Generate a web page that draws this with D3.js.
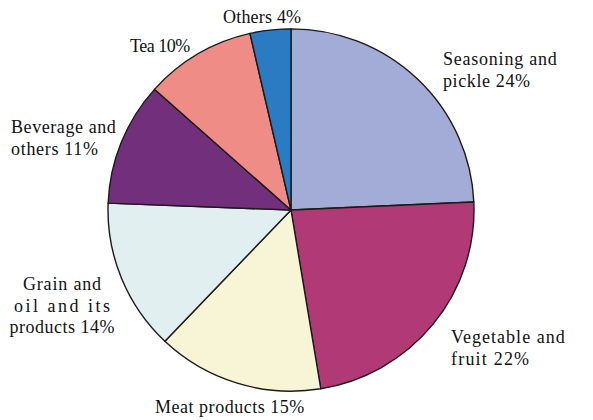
<!DOCTYPE html>
<html>
<head>
<meta charset="utf-8">
<script src="https://cdn.jsdelivr.net/npm/d3@7"></script>
<style>
  body { margin: 0; background: #fff; }
  text { font-family: "Liberation Serif", "DejaVu Serif", serif; fill: #111; }
</style>
</head>
<body>
<div id="container"></div>
<script>
// data, clockwise from 12 o'clock
let categories = ["Seasoning and|pickle", "Vegetable and|fruit", "Meat products", "Grain and|oil and its|products", "Beverage and|others", "Tea", "Others"]
// percentages as printed in the labels
let shares = [24, 22, 15, 14, 11, 10, 4]
let drawn = [24.3, 23.1, 14.7, 13.5, 11.0, 9.8, 3.6]
let colors = ["#a2acd6", "#b13a76", "#f8f4d6", "#e1eff0", "#722f7b", "#f08c86", "#2a7bc1"]

// label anchors [x, y of first baseline, text-anchor]
let labelSpots = [
    [443, 65, "start"],
    [451, 343, "start"],
    [155, 413, "start"],
    [62, 290, "middle"],
    [11, 133, "start"],
    [130, 52, "start"],
    [223, 23, "start"]
]

let width = 593, height = 420
let cx = 291, cy = 210, r = 183
let charPitch = 8.9

let viz = d3.select("#container").append("svg")
    .attr("width", width)
    .attr("height", height)
    .style("background-color", "white")

let pie = d3.pie().sort(null).value(d => d)
let arc = d3.arc().innerRadius(0).outerRadius(r)

let slices = viz.append("g")
    .attr("transform", "translate(" + cx + "," + cy + ") scale(1,0.99)")

slices.selectAll("path")
    .data(pie(drawn))
    .enter()
    .append("path")
    .attr("d", arc)
    .attr("fill", (d, i) => colors[i])
    .attr("stroke", "#1a1a1a")
    .attr("stroke-width", 1.4)
    .attr("stroke-linejoin", "round")

let labels = viz.append("g")

categories.forEach(function(name, i) {
    let lines = name.split("|")
    lines[lines.length - 1] += " " + shares[i] + "%"
    let spot = labelSpots[i]
    let t = labels.append("text")
        .attr("x", spot[0])
        .attr("y", spot[1])
        .attr("text-anchor", spot[2])
        .style("font-size", "18px")
    lines.forEach(function(line, j) {
        t.append("tspan")
            .attr("x", spot[0])
            .attr("dy", j == 0 ? 0 : 21.5)
            .attr("textLength", line.length * charPitch - 2)
            .attr("lengthAdjust", "spacing")
            .text(line)
    })
})
</script>
</body>
</html>
